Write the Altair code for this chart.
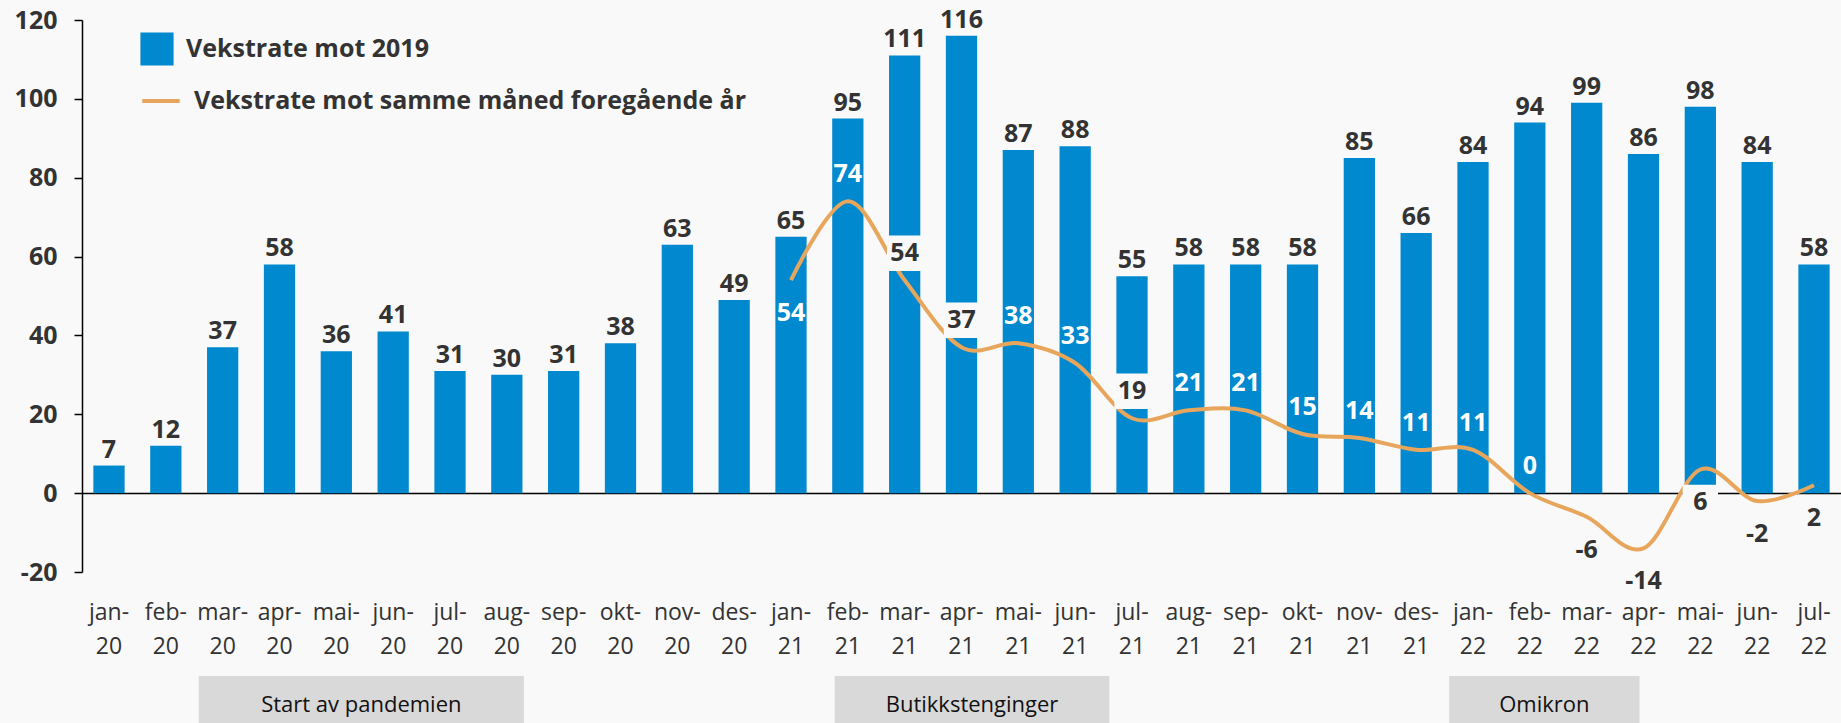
import altair as alt
import pandas as pd

# ---------------- data ----------------
months = ["jan-20", "feb-20", "mar-20", "apr-20", "mai-20", "jun-20", "jul-20", "aug-20",
          "sep-20", "okt-20", "nov-20", "des-20", "jan-21", "feb-21", "mar-21", "apr-21",
          "mai-21", "jun-21", "jul-21", "aug-21", "sep-21", "okt-21", "nov-21", "des-21",
          "jan-22", "feb-22", "mar-22", "apr-22", "mai-22", "jun-22", "jul-22"]
growth_vs_2019 = [7, 12, 37, 58, 36, 41, 31, 30, 31, 38, 63, 49, 65, 95, 111, 116, 87, 88,
                  55, 58, 58, 58, 85, 66, 84, 94, 99, 86, 98, 84, 58]
line_months = months[12:]
growth_yoy = [54, 74, 54, 37, 38, 33, 19, 21, 21, 15, 14, 11, 11, 0, -6, -14, 6, -2, 2]
labels_below = ["jan-21", "mar-22", "apr-22", "mai-22", "jun-22", "jul-22"]
boxed_labels = ["mar-21", "apr-21", "jul-21", "mai-22"]

bar_series = "Vekstrate mot 2019"
line_series = "Vekstrate mot samme måned foregående år"

periods = ["Start av pandemien", "Butikkstenginger", "Omikron"]
period_start = [1.58, 12.77, 23.58]   # in month-index units
period_end = [7.30, 17.60, 26.93]

# ---------------- styling ----------------
BLUE = "#0089CF"
ORANGE = "#E8A65C"
BG = "#F9F9F9"
DARK = "#333333"
FONT = "Open Sans"

W, H = 1759, 552
P_IN, P_OUT = 0.45, 0.2

df_bar = pd.DataFrame({"month": months, "value": growth_vs_2019, "series": bar_series})
df_bar["lbl"] = df_bar["value"].astype(str)
df_line = pd.DataFrame({"month": line_months, "value": growth_yoy, "series": line_series})
df_line["lbl"] = df_line["value"].astype(str)
df_line["below"] = df_line["month"].isin(labels_below)
df_line["boxed"] = df_line["month"].isin(boxed_labels)
df_line["tcolor"] = [
    DARK if (b or (bl and v < 10)) else "white"
    for b, bl, v in zip(df_line["boxed"], df_line["below"], df_line["value"])
]

n = len(months)
span = n - P_IN + 2 * P_OUT
off = P_OUT + (1 - P_IN) / 2
df_per = pd.DataFrame({"label": periods, "start": period_start, "end": period_end})
df_per["mid"] = (df_per["start"] + df_per["end"]) / 2

x_enc = alt.X(
    "month:N", sort=months,
    scale=alt.Scale(paddingInner=P_IN, paddingOuter=P_OUT),
    axis=alt.Axis(
        title=None, labelAngle=0, ticks=False, domain=False, labelOverlap=False,
        labelFontSize=23, labelColor=DARK, labelFont=FONT, labelPadding=29,
        labelLineHeight=34, labelBaseline="top",
        labelExpr="[slice(datum.label, 0, 4), slice(datum.label, 4)]",
    ),
)
y_enc = alt.Y(
    "value:Q",
    scale=alt.Scale(domain=[-20, 120], nice=False, zero=False),
    axis=alt.Axis(
        title=None, values=list(range(-20, 121, 20)), format="d",
        labelExpr="replace(datum.label, '\u2212', '-')",
        labelFontSize=25, labelFontWeight="bold", labelColor=DARK, labelFont=FONT,
        labelPadding=17, tickSize=8, tickColor="black", tickWidth=1.5,
        domainColor="black", domainWidth=1.5,
        grid=True, gridWidth=1.5,
        gridColor={"condition": {"test": "datum.value === 0", "value": "black"},
                   "value": "transparent"},
    ),
)

legend_common = dict(title=None, orient="none", legendX=58, labelFontSize=25,
                     labelFontWeight="bold", labelColor=DARK, labelFont=FONT,
                     labelOffset=12, labelLimit=0)

bars = alt.Chart(df_bar).mark_bar().encode(
    x=x_enc, y=y_enc,
    fill=alt.Fill("series:N", scale=alt.Scale(domain=[bar_series], range=[BLUE]),
                  legend=alt.Legend(legendY=12, symbolType="square", symbolSize=1100,
                                    symbolStrokeWidth=0, **legend_common)),
)

bar_text = alt.Chart(df_bar).mark_text(
    dy=-8, baseline="alphabetic", fontSize=25, fontWeight="bold", font=FONT, color=DARK
).encode(x=alt.X("month:N", sort=months), y="value:Q", text="lbl:N")

line = alt.Chart(df_line).mark_line(
    interpolate="cardinal", tension=0, strokeWidth=4
).encode(
    x=alt.X("month:N", sort=months), y="value:Q",
    stroke=alt.Stroke("series:N", scale=alt.Scale(domain=[line_series], range=[ORANGE]),
                      legend=alt.Legend(legendY=60, symbolType="stroke", symbolSize=1400,
                                        symbolStrokeWidth=4, **legend_common)),
)

DY_UP, DY_DOWN = -27, 33


def label_layers(below):
    base = alt.Chart(df_line).transform_filter(
        alt.datum.below if below else ~alt.datum.below
    )
    dy = DY_DOWN if below else DY_UP
    box = base.transform_filter(alt.datum.boxed).mark_point(
        shape="square", size=1250, filled=True, opacity=1, color=BG, yOffset=dy
    ).encode(x=alt.X("month:N", sort=months), y="value:Q")
    txt = base.mark_text(
        dy=dy, baseline="middle", fontSize=25, fontWeight="bold", font=FONT
    ).encode(x=alt.X("month:N", sort=months), y="value:Q", text="lbl:N",
             color=alt.Color("tcolor:N", scale=None))
    return box, txt


box_up, txt_up = label_layers(False)
box_dn, txt_dn = label_layers(True)

main = alt.layer(bars, bar_text, line, box_up, box_dn, txt_up, txt_dn)

xq_scale = alt.Scale(domain=[-off, span - off], nice=False, zero=False)
per_rect = alt.Chart(df_per).mark_rect(color="#D9D9D9").encode(
    x=alt.X("start:Q", scale=xq_scale, axis=None), x2="end:Q",
    y=alt.value(656), y2=alt.value(703)
)
per_text = alt.Chart(df_per).mark_text(
    fontSize=22, font=FONT, color="#111111", baseline="middle"
).encode(
    x=alt.X("mid:Q", scale=xq_scale, axis=None),
    y=alt.value(685), text="label:N",
)
annot = alt.layer(per_rect, per_text)

chart = alt.layer(main, annot).resolve_scale(x="independent").properties(
    width=W, height=H,
    autosize=alt.AutoSizeParams(type="none"),
    padding={"left": 82, "top": 20, "right": 0, "bottom": 151},
    background=BG,
).configure_view(stroke=None).configure_legend(padding=0)

chart.save("out.html", embed_options={"renderer": "svg", "actions": False})
